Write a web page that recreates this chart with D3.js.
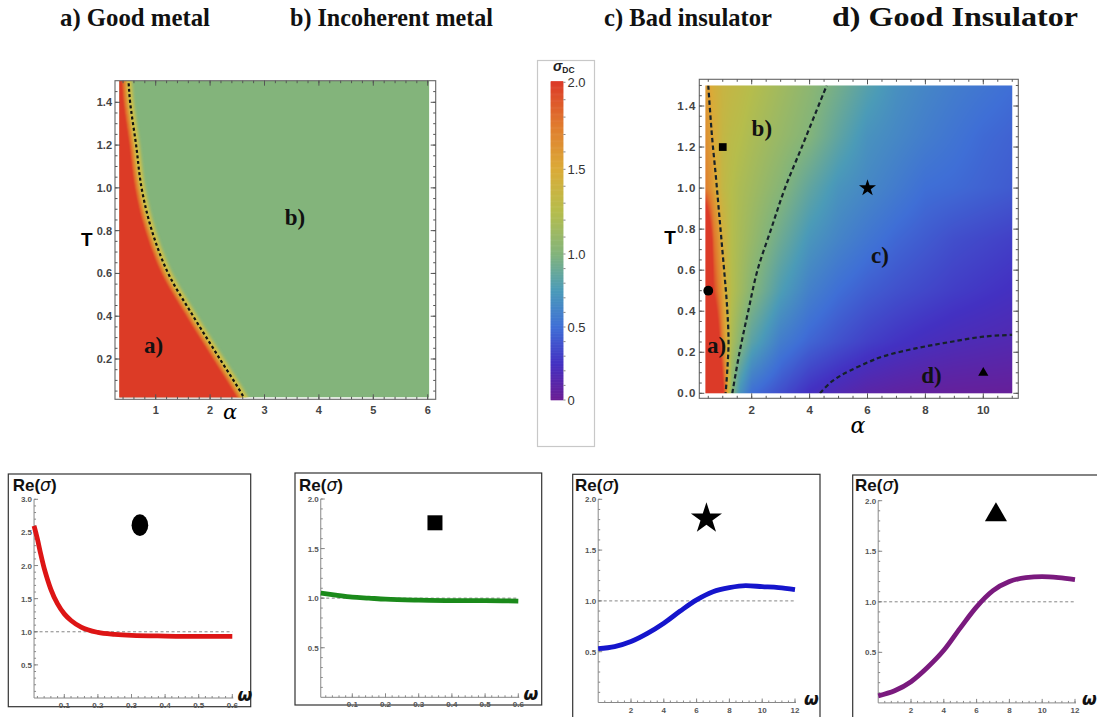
<!DOCTYPE html>
<html><head><meta charset="utf-8">
<script src="https://cdn.jsdelivr.net/npm/d3@7"></script>
<style>body{margin:0;background:#fff}svg{display:block}</style>
</head><body>
<svg id="c" width="1097" height="717" xmlns="http://www.w3.org/2000/svg"></svg>
<script>
// ---------------- DATA ----------------
const titles = ["a) Good metal", "b) Incoherent metal", "c) Bad insulator", "d) Good Insulator"];

// colour map (sigma_DC -> colour)
const colorStops = [0, 0.25, 0.5, 0.75, 1.0, 1.25, 1.5, 1.75, 2.0];
const colorHex = ["#6b1d94", "#4331c2", "#3f6fd6", "#4b9bb8", "#83b47b", "#b6bd4c", "#dbab38", "#e07b2e", "#dc3a28"];
const colorbarTicks = [0, 0.5, 1.0, 1.5, 2.0];
const colorbarTickLabels = ["0", "0.5", "1.0", "1.5", "2.0"];

// left phase diagram: metal / incoherent-metal boundary
const leftBoundaryT = [1.5, 1.4, 1.2, 1.0, 0.8, 0.6, 0.4, 0.2, 0.02];
const leftBoundaryAlpha = [0.50, 0.53, 0.64, 0.74, 0.93, 1.23, 1.69, 2.18, 2.62];
const leftSigmaMetal = 2.0;
const leftSigmaIncoherent = 1.0;
const leftAlphaRange = [0.33, 6.03];
const leftTRange = [0.02, 1.5];
const leftXTicks = [1, 2, 3, 4, 5, 6];
const leftYTicks = [0.2, 0.4, 0.6, 0.8, 1.0, 1.2, 1.4];
const leftRegionLabels = ["a)", "b)"];
const leftRegionAlpha = [0.96, 3.56];
const leftRegionT = [0.266, 0.865];

// right phase diagram: sigma_DC grid (rows: T, cols: alpha)
const rightAlpha = [0.4, 0.7, 1.0, 1.3, 1.6, 2, 3, 4, 5, 6, 7, 8, 9, 10, 11];
const rightT = [0, 0.25, 0.5, 0.75, 1.0, 1.25, 1.5];
const rightSigma = [
  [3.0, 3.0, 2.10, 1.05, 0.70, 0.50, 0.37, 0.24, 0.16, 0.10, 0.07, 0.05, 0.04, 0.035, 0.03],
  [3.0, 2.5, 1.70, 1.20, 1.02, 0.82, 0.58, 0.46, 0.38, 0.31, 0.26, 0.22, 0.19, 0.17, 0.15],
  [3.0, 1.95, 1.55, 1.25, 1.15, 1.02, 0.77, 0.60, 0.50, 0.43, 0.38, 0.34, 0.30, 0.27, 0.24],
  [2.6, 1.78, 1.45, 1.25, 1.18, 1.10, 0.90, 0.72, 0.62, 0.54, 0.47, 0.42, 0.37, 0.34, 0.31],
  [1.75, 1.55, 1.33, 1.25, 1.20, 1.15, 1.02, 0.85, 0.71, 0.64, 0.57, 0.50, 0.48, 0.45, 0.42],
  [1.65, 1.50, 1.34, 1.28, 1.25, 1.20, 1.10, 1.00, 0.84, 0.70, 0.64, 0.58, 0.53, 0.48, 0.45],
  [1.60, 1.45, 1.37, 1.33, 1.30, 1.25, 1.15, 1.05, 0.93, 0.80, 0.69, 0.63, 0.58, 0.54, 0.50]
];
const rightLine1T = [1.5, 1.25, 1.06, 0.9, 0.74, 0.58, 0.42, 0.25, 0.12, 0.0];
const rightLine1Alpha = [0.50, 0.63, 0.76, 0.86, 0.96, 1.06, 1.15, 1.20, 1.16, 1.10];
const rightLine2T = [0.0, 0.2, 0.4, 0.6, 0.8, 1.0, 1.2, 1.5];
const rightLine2Alpha = [1.33, 1.58, 1.88, 2.20, 2.67, 3.15, 3.73, 4.59];
const rightLine3Alpha = [4.36, 4.7, 5.0, 5.39, 6.0, 6.54, 7.7, 8.85, 10.0, 11.0];
const rightLine3T = [0.0, 0.05, 0.08, 0.11, 0.15, 0.18, 0.22, 0.25, 0.276, 0.285];
const rightXTicks = [2, 4, 6, 8, 10];
const rightYTicks = [0.0, 0.2, 0.4, 0.6, 0.8, 1.0, 1.2, 1.4];
const rightRegionLabels = ["a)", "b)", "c)", "d)"];
const rightRegionAlpha = [0.79, 2.35, 6.43, 8.21];
const rightRegionT = [0.235, 1.295, 0.674, 0.09];
const markerNames = ["circle", "square", "star", "triangle"];
const markerAlpha = [0.5, 1.0, 6.0, 10.0];
const markerT = [0.5, 1.2, 1.0, 0.1];

// optical conductivity curves
const omegaA = [0.01, 0.02, 0.03, 0.04, 0.05, 0.06, 0.08, 0.10, 0.12, 0.15, 0.20, 0.25, 0.30, 0.40, 0.50, 0.60];
const sigmaA = [2.60, 2.40, 2.17, 1.96, 1.79, 1.64, 1.42, 1.27, 1.17, 1.07, 0.99, 0.96, 0.945, 0.935, 0.93, 0.93];
const omegaB = [0.005, 0.05, 0.10, 0.15, 0.20, 0.30, 0.40, 0.50, 0.60];
const sigmaB = [1.05, 1.03, 1.01, 1.00, 0.99, 0.98, 0.975, 0.975, 0.97];
const omegaC = [0, 1, 2, 3, 4, 5, 6, 7, 8, 9, 10, 11, 12];
const sigmaC = [0.53, 0.55, 0.60, 0.68, 0.78, 0.90, 1.01, 1.09, 1.13, 1.15, 1.14, 1.13, 1.11];
const omegaD = [0, 1, 2, 3, 4, 5, 6, 7, 8, 9, 10, 11, 12];
const sigmaD = [0.07, 0.12, 0.21, 0.35, 0.52, 0.74, 0.95, 1.11, 1.20, 1.24, 1.25, 1.24, 1.22];
const panelXTicksSmall = [0.1, 0.2, 0.3, 0.4, 0.5, 0.6];
const panelXTicksLarge = [2, 4, 6, 8, 10, 12];
const panelYTicksA = [0.5, 1.0, 1.5, 2.0, 2.5, 3.0];
const panelYTicksB = [0.5, 1.0, 1.5, 2.0];
const panelMarkerOmega = [0.325, 0.349, 6.6, 7.18];
const panelMarkerSigma = [2.61, 1.76, 1.81, 1.86];

// ---------------- DRAWING ----------------
const svg = d3.select("#c");
const color = d3.scaleLinear().domain(colorStops).range(colorHex).clamp(true);
const defs = svg.append("defs");
defs.append("filter").attr("id", "blur2").attr("x", "-20%").attr("y", "-20%").attr("width", "140%").attr("height", "140%")
  .append("feGaussianBlur").attr("stdDeviation", 1.6);
defs.append("filter").attr("id", "blur1").attr("x", "-20%").attr("y", "-20%").attr("width", "140%").attr("height", "140%")
  .append("feGaussianBlur").attr("stdDeviation", 0.8);

// titles
const titleX = [60, 290, 604, 832];
const titleW = [150, 203, 168, 246];
const titleFs = [25, 25, 25, 28];
titles.forEach((t, i) => {
  svg.append("text").attr("x", titleX[i]).attr("y", 26).text(t)
    .attr("font-family", "'Liberation Serif', 'Times New Roman', serif").attr("font-weight", "bold")
    .attr("font-size", titleFs[i]).attr("textLength", titleW[i]).attr("lengthAdjust", "spacingAndGlyphs").attr("fill", "#111");
});

function range(a, b, s) { const r = []; for (let v = a; v <= b + 1e-9; v += s) r.push(+v.toFixed(6)); return r; }

function frameTicks(g, x, y, fr, xMaj, xMin, yMaj, yMin, labFmtY, opts) {
  g.append("rect").attr("x", fr.x0).attr("y", fr.y0).attr("width", fr.x1 - fr.x0).attr("height", fr.y1 - fr.y0)
    .attr("fill", "none").attr("stroke", "#666").attr("stroke-width", 1.1);
  const tk = g.append("g").attr("stroke", "#555").attr("stroke-width", 1);
  const inX = v => x(v) >= fr.x0 + 1 && x(v) <= fr.x1 - 1;
  const inY = v => y(v) >= fr.y0 + 1 && y(v) <= fr.y1 - 1;
  xMin.filter(inX).forEach(v => {
    tk.append("line").attr("x1", x(v)).attr("x2", x(v)).attr("y1", fr.y1).attr("y2", fr.y1 - 2.5);
    tk.append("line").attr("x1", x(v)).attr("x2", x(v)).attr("y1", fr.y0).attr("y2", fr.y0 + 2.5);
  });
  xMaj.filter(inX).forEach(v => {
    tk.append("line").attr("x1", x(v)).attr("x2", x(v)).attr("y1", fr.y1).attr("y2", fr.y1 - 5);
    tk.append("line").attr("x1", x(v)).attr("x2", x(v)).attr("y1", fr.y0).attr("y2", fr.y0 + 5);
  });
  yMin.filter(inY).forEach(v => {
    tk.append("line").attr("y1", y(v)).attr("y2", y(v)).attr("x1", fr.x0).attr("x2", fr.x0 + 2.5);
    tk.append("line").attr("y1", y(v)).attr("y2", y(v)).attr("x1", fr.x1).attr("x2", fr.x1 - 2.5);
  });
  yMaj.filter(inY).forEach(v => {
    tk.append("line").attr("y1", y(v)).attr("y2", y(v)).attr("x1", fr.x0).attr("x2", fr.x0 + 5);
    tk.append("line").attr("y1", y(v)).attr("y2", y(v)).attr("x1", fr.x1).attr("x2", fr.x1 - 5);
  });
  const lab = g.append("g").attr("font-family", "'Liberation Sans', Arial, sans-serif").attr("font-weight", "bold")
    .attr("font-size", opts.fs).attr("fill", "#444");
  xMaj.forEach(v => lab.append("text").attr("x", x(v)).attr("y", fr.y1 + opts.xOff).attr("text-anchor", "middle").text(v));
  yMaj.forEach(v => lab.append("text").attr("x", fr.x0 - 3).attr("y", y(v) + opts.fs * 0.36).attr("text-anchor", "end")
    .attr("letter-spacing", opts.ls || 0).text(labFmtY(v)));
}

// ---------- left phase diagram ----------
{
  const g = svg.append("g");
  const x = d3.scaleLinear().domain([1, 6]).range([155.7, 427.7]);
  const y = d3.scaleLinear().domain([0.2, 1.4]).range([359, 102.3]);
  const fr = { x0: 115, x1: 435.7, y0: 80.7, y1: 399.3 };
  defs.append("clipPath").attr("id", "clipL").append("rect")
    .attr("x", x(leftAlphaRange[0])).attr("y", y(leftTRange[1]))
    .attr("width", x(leftAlphaRange[1]) - x(leftAlphaRange[0])).attr("height", y(leftTRange[0]) - y(leftTRange[1]));
  const d = g.append("g").attr("clip-path", "url(#clipL)");
  d.append("rect").attr("x", x(leftAlphaRange[0])).attr("y", y(leftTRange[1]))
    .attr("width", x(leftAlphaRange[1]) - x(leftAlphaRange[0])).attr("height", y(leftTRange[0]) - y(leftTRange[1]))
    .attr("fill", color(leftSigmaIncoherent));
  const pts = leftBoundaryT.map((t, i) => ({ t, a: leftBoundaryAlpha[i] }));
  const ext = [{ t: 1.62, a: 0.47 }, ...pts, { t: -0.1, a: 2.85 }];
  const line = d3.line().curve(d3.curveCatmullRom).x(p => x(p.a)).y(p => y(p.t));
  d.append("path").attr("d", line(ext)).attr("fill", "none").attr("stroke", "#cfc04a").attr("stroke-width", 9)
    .attr("filter", "url(#blur2)").attr("transform", "translate(-1,0)");
  const area = d3.area().curve(d3.curveCatmullRom).x0(x(0)).x1(p => x(p.a)).y(p => y(p.t));
  d.append("path").attr("d", area(ext)).attr("fill", color(leftSigmaMetal)).attr("stroke", "#e2872f").attr("stroke-width", 3)
    .attr("filter", "url(#blur1)").attr("transform", "translate(-4,0)");
  d.append("path").attr("d", line(ext)).attr("fill", "none").attr("stroke", "#111").attr("stroke-width", 2.2)
    .attr("stroke-dasharray", "3,2.6");
  leftRegionLabels.forEach((s, i) => g.append("text").attr("x", x(leftRegionAlpha[i])).attr("y", y(leftRegionT[i]))
    .attr("dy", "0.35em").attr("text-anchor", "middle").attr("font-family", "'Liberation Serif', serif")
    .attr("font-weight", "bold").attr("font-size", 23).attr("fill", "#111").text(s));
  frameTicks(g, x, y, fr, leftXTicks, range(0.4, 6, 0.2), leftYTicks, range(0.05, 1.5, 0.05), v => v.toFixed(1), { fs: 11, xOff: 15 });
  g.append("text").attr("x", 86.7).attr("y", 246).attr("text-anchor", "middle").attr("font-family", "'Liberation Sans', Arial, sans-serif")
    .attr("font-weight", "bold").attr("font-size", 19).text("T");
  g.append("text").attr("x", 230).attr("y", 419).attr("text-anchor", "middle").attr("font-family", "'DejaVu Serif', serif")
    .attr("font-style", "italic").attr("font-size", 21).text("α");
}

// ---------- colour bar ----------
{
  const g = svg.append("g");
  g.append("rect").attr("x", 537.5).attr("y", 60.5).attr("width", 57).attr("height", 386).attr("fill", "#fff")
    .attr("stroke", "#c8c8c8").attr("stroke-width", 1.2);
  const cy = d3.scaleLinear().domain([0, 0.5, 1.0, 1.5, 2.0]).range([400, 327, 254, 169.3, 82.3]);
  const vals = d3.range(0, 2.0001, 0.005);
  g.selectAll("rect.cb").data(vals).join("rect").attr("class", "cb")
    .attr("x", 550.7).attr("width", 12.6).attr("y", v => cy(v + 0.005) - 0.3).attr("height", v => cy(v) - cy(v + 0.005) + 0.6)
    .attr("fill", v => color(v));
  const tk = g.append("g").attr("stroke", "#888").attr("stroke-width", 1);
  d3.range(0, 2.0001, 0.1).forEach(v => tk.append("line").attr("x1", 563.3).attr("x2", 565.5).attr("y1", cy(v)).attr("y2", cy(v)));
  colorbarTicks.forEach((v, i) => g.append("text").attr("x", 567.5).attr("y", cy(v) + 4.5)
    .attr("font-family", "'Liberation Sans', Arial, sans-serif").attr("font-size", 13).attr("fill", "#333").text(colorbarTickLabels[i]));
  const t = g.append("text").attr("x", 553).attr("y", 71).attr("font-family", "'Liberation Sans', Arial, sans-serif").attr("fill", "#222");
  t.append("tspan").attr("font-style", "italic").attr("font-weight", "bold").attr("font-size", 14).text("σ");
  t.append("tspan").attr("font-size", 8.5).attr("font-weight", "bold").attr("dy", 2).text("DC");
}

// ---------- right phase diagram ----------
{
  const g = svg.append("g");
  const x = d3.scaleLinear().domain([2, 10]).range([751.7, 983.3]);
  const y = d3.scaleLinear().domain([0, 1.4]).range([393.3, 106]);
  const fr = { x0: 699.3, x1: 1018.3, y0: 79.3, y1: 398.3 };
  const aMin = rightAlpha[0], aMax = rightAlpha[rightAlpha.length - 1];
  const tMin = rightT[0], tMax = rightT[rightT.length - 1];
  const px0 = x(aMin), px1 = x(aMax), py0 = y(tMax), py1 = y(tMin);
  const W = Math.round(px1 - px0), H = Math.round(py1 - py0);
  const cv = document.createElement("canvas"); cv.width = W; cv.height = H;
  const ctx = cv.getContext("2d"); const img = ctx.createImageData(W, H);
  function cell(arr, v) {
    let i = d3.bisectRight(arr, v) - 1; i = Math.max(0, Math.min(arr.length - 2, i));
    let f = (v - arr[i]) / (arr[i + 1] - arr[i]); f = Math.max(0, Math.min(1, f)); return [i, f];
  }
  for (let j = 0; j < H; j++) {
    const t = y.invert(py0 + (j + 0.5) * (py1 - py0) / H);
    const [it, ft] = cell(rightT, t);
    for (let i = 0; i < W; i++) {
      const a = x.invert(px0 + (i + 0.5) * (px1 - px0) / W);
      const [ia, fa] = cell(rightAlpha, a);
      const v0 = rightSigma[it][ia] * (1 - fa) + rightSigma[it][ia + 1] * fa;
      const v1 = rightSigma[it + 1][ia] * (1 - fa) + rightSigma[it + 1][ia + 1] * fa;
      const c = d3.rgb(color(v0 * (1 - ft) + v1 * ft));
      const k = (j * W + i) * 4; img.data[k] = c.r; img.data[k + 1] = c.g; img.data[k + 2] = c.b; img.data[k + 3] = 255;
    }
  }
  ctx.putImageData(img, 0, 0);
  g.append("image").attr("href", cv.toDataURL()).attr("x", px0).attr("y", py0).attr("width", px1 - px0).attr("height", py1 - py0)
    .attr("preserveAspectRatio", "none");
  defs.append("clipPath").attr("id", "clipR").append("rect").attr("x", px0).attr("y", py0).attr("width", px1 - px0).attr("height", py1 - py0);
  const d = g.append("g").attr("clip-path", "url(#clipR)");
  const line = d3.line().curve(d3.curveCatmullRom).x(p => x(p[0])).y(p => y(p[1]));
  const lines = [
    rightLine1T.map((t, i) => [rightLine1Alpha[i], t]),
    rightLine2T.map((t, i) => [rightLine2Alpha[i], t]),
    rightLine3T.map((t, i) => [rightLine3Alpha[i], t])
  ];
  lines.forEach(l => d.append("path").attr("d", line(l)).attr("fill", "none").attr("stroke", "#16222a")
    .attr("stroke-width", 2.2).attr("stroke-dasharray", "4.5,3"));
  rightRegionLabels.forEach((s, i) => g.append("text").attr("x", x(rightRegionAlpha[i])).attr("y", y(rightRegionT[i]))
    .attr("dy", "0.35em").attr("text-anchor", "middle").attr("font-family", "'Liberation Serif', serif")
    .attr("font-weight", "bold").attr("font-size", 23).attr("fill", "#111").text(s));
  const sym = { circle: d3.symbolCircle, square: d3.symbolSquare, star: d3.symbolStar, triangle: d3.symbolTriangle };
  const size = { circle: 75, square: 60, star: 90, triangle: 45 };
  markerNames.forEach((m, i) => g.append("path").attr("d", d3.symbol(sym[m], size[m])())
    .attr("transform", `translate(${x(markerAlpha[i])},${y(markerT[i])})`).attr("fill", "#000"));
  frameTicks(g, x, y, fr, rightXTicks, range(0.5, 11, 0.5), rightYTicks, range(0, 1.5, 0.05), v => v.toFixed(1), { fs: 11.5, xOff: 16, ls: 1 });
  g.append("text").attr("x", 670).attr("y", 244).attr("text-anchor", "middle").attr("font-family", "'Liberation Sans', Arial, sans-serif")
    .attr("font-weight", "bold").attr("font-size", 19).text("T");
  g.append("text").attr("x", 858).attr("y", 433).attr("text-anchor", "middle").attr("font-family", "'DejaVu Serif', serif")
    .attr("font-style", "italic").attr("font-size", 22).text("α");
}

// ---------- optical conductivity panels ----------
const panels = [
  { box: [8.3, 474, 250.7, 706.7], xd: [0.1, 0.6], xr: [64.3, 232.3], yd: [0, 3.0], yr: [698, 499.3], xs: 0.01, xe: 0.6,
    om: omegaA, sg: sigmaA, col: "#dd1515", xt: panelXTicksSmall, xm: 0.02, yt: panelYTicksA, fmt: v => v.toFixed(1),
    re: [12.7, 490.7], w: [237.5, 701] },
  { box: [295, 473, 541.7, 705], xd: [0.1, 0.6], xr: [352.3, 518.3], yd: [0, 2.0], yr: [697.3, 499], xs: 0.005, xe: 0.6,
    om: omegaB, sg: sigmaB, col: "#1b8a1b", xt: panelXTicksSmall, xm: 0.02, yt: panelYTicksB, fmt: v => v.toFixed(1),
    re: [299, 490.7], w: [523.5, 700] },
  { box: [572.7, 474.3, 820, 730], xd: [2, 12], xr: [631, 795], yd: [0, 2.0], yr: [702.5, 499.3], xs: 0, xe: 12,
    om: omegaC, sg: sigmaC, col: "#1515cc", xt: panelXTicksLarge, xm: 0.4, yt: panelYTicksB, fmt: v => v.toFixed(1),
    re: [575, 490.7], w: [804, 705] },
  { box: [852.7, 475, 1110, 730], xd: [2, 12], xr: [911, 1075], yd: [0, 2.0], yr: [702.9, 500.7], xs: 0, xe: 12,
    om: omegaD, sg: sigmaD, col: "#7a1a7e", xt: panelXTicksLarge, xm: 0.4, yt: panelYTicksB, fmt: v => v.toFixed(1),
    re: [855, 490.7], w: [1082, 705] }
];
const pSym = [d3.symbolCircle, d3.symbolSquare, d3.symbolStar, d3.symbolTriangle];
panels.forEach((p, k) => {
  const g = svg.append("g");
  g.append("rect").attr("x", p.box[0]).attr("y", p.box[1]).attr("width", p.box[2] - p.box[0]).attr("height", p.box[3] - p.box[1])
    .attr("fill", "#fff").attr("stroke", "#333").attr("stroke-width", 1.2);
  const x = d3.scaleLinear().domain(p.xd).range(p.xr);
  const y = d3.scaleLinear().domain(p.yd).range(p.yr);
  const ax0 = x(p.xs), ax1 = x(p.xe), ay0 = y(0), ayTop = y(p.yd[1]);
  const ag = g.append("g").attr("stroke", "#888").attr("stroke-width", 1);
  ag.append("line").attr("x1", ax0).attr("x2", ax1 + 1).attr("y1", ay0).attr("y2", ay0);
  ag.append("line").attr("x1", ax0).attr("x2", ax0).attr("y1", ay0).attr("y2", ayTop);
  range(0.1, p.yd[1], 0.1).forEach(v => ag.append("line").attr("x1", ax0).attr("x2", ax0 + 2).attr("y1", y(v)).attr("y2", y(v)));
  p.yt.forEach(v => ag.append("line").attr("x1", ax0).attr("x2", ax0 + 4).attr("y1", y(v)).attr("y2", y(v)));
  range(p.xm, p.xe, p.xm).filter(v => x(v) > ax0 + 1).forEach(v => ag.append("line").attr("x1", x(v)).attr("x2", x(v)).attr("y1", ay0).attr("y2", ay0 - 2));
  p.xt.forEach(v => ag.append("line").attr("x1", x(v)).attr("x2", x(v)).attr("y1", ay0).attr("y2", ay0 - 4));
  const lab = g.append("g").attr("font-family", "'Liberation Sans', Arial, sans-serif").attr("font-weight", "bold")
    .attr("font-size", 8).attr("fill", "#555");
  p.yt.forEach(v => lab.append("text").attr("x", ax0 - 2).attr("y", y(v) + 3).attr("text-anchor", "end").text(p.fmt(v)));
  p.xt.forEach(v => lab.append("text").attr("x", x(v)).attr("y", ay0 + 10).attr("text-anchor", "middle").text(v));
  g.append("line").attr("x1", ax0).attr("x2", ax1).attr("y1", y(1)).attr("y2", y(1))
    .attr("stroke", "#777").attr("stroke-width", 0.9).attr("stroke-dasharray", "3,2.5");
  g.append("path").attr("d", d3.line().curve(d3.curveMonotoneX).x((v, i) => x(p.om[i])).y(v => y(v))(p.sg))
    .attr("fill", "none").attr("stroke", p.col).attr("stroke-width", 4.8).attr("stroke-linecap", "butt");
  const t = g.append("text").attr("x", p.re[0]).attr("y", p.re[1]).attr("font-family", "'Liberation Sans', Arial, sans-serif")
    .attr("font-weight", "bold").attr("font-size", 17).attr("fill", "#111");
  t.append("tspan").text("Re(");
  t.append("tspan").attr("font-style", "italic").attr("font-family", "'DejaVu Sans', sans-serif").attr("font-weight", "normal").text("σ");
  t.append("tspan").text(")");
  g.append("text").attr("x", p.w[0]).attr("y", p.w[1]).attr("font-family", "'DejaVu Sans', sans-serif").attr("font-weight", "bold")
    .attr("font-style", "italic").attr("font-size", 17).attr("fill", "#111").text("ω");
  const sizes = [300, 225, 300, 210];
  g.append("path").attr("d", d3.symbol(pSym[k], sizes[k])())
    .attr("transform", `translate(${x(panelMarkerOmega[k])},${y(panelMarkerSigma[k])})` + (k === 0 ? " scale(0.85,1.12)" : ""))
    .attr("fill", "#000");
});
</script>
</body></html>
